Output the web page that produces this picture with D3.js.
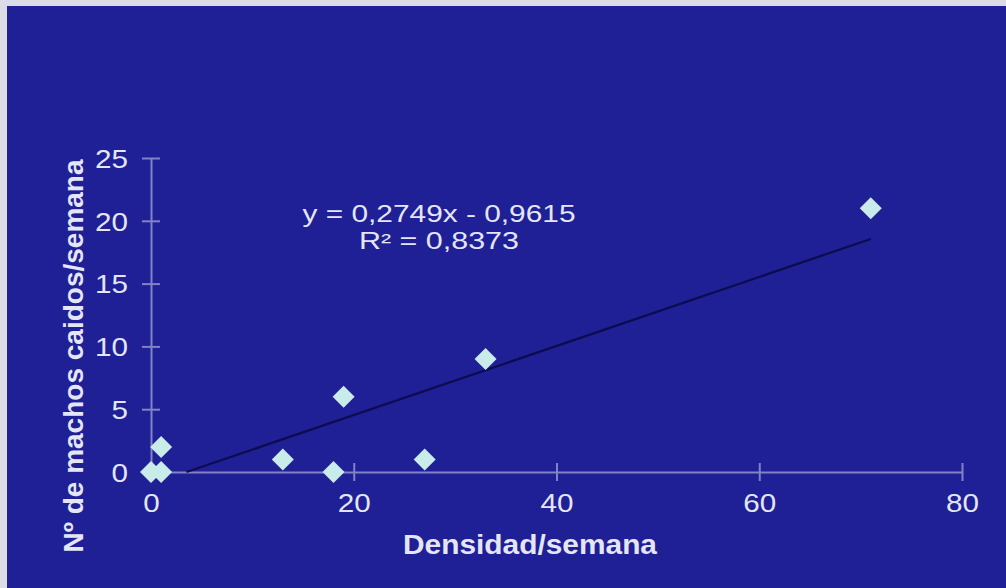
<!DOCTYPE html>
<html><head><meta charset="utf-8">
<script src="https://cdn.jsdelivr.net/npm/d3@7"></script>
<style>html,body{margin:0;padding:0;background:#dcdce6;}svg{display:block;}</style>
</head><body>
<svg id="c" width="1006" height="588"></svg>
<script>
const densidad = [0, 1, 1, 13, 18, 19, 27, 33, 71];
const machos   = [0, 0, 2, 1, 0, 6, 1, 9, 21];
const xTicks = [0, 20, 40, 60, 80];
const yTicks = [0, 5, 10, 15, 20, 25];
const slope = 0.2749, intercept = -0.9615;
const eqLines = ["y = 0,2749x - 0,9615", "R\u00B2 = 0,8373"];
const xTitle = "Densidad/semana";
const yTitle = "N\u00BA de machos caidos/semana";

const svg = d3.select("#c");
const font = "'Liberation Sans', Arial, sans-serif";
svg.append("rect").attr("x",0).attr("y",0).attr("width",1006).attr("height",588).attr("fill","#dcdce6");
svg.append("rect").attr("x",7).attr("y",6).attr("width",999).attr("height",582).attr("fill","#1f1f96");

const x = d3.scaleLinear().domain([0,80]).range([151,962]);
const y = d3.scaleLinear().domain([0,25]).range([472,158]);

const axisCol = "#8282c6", textCol = "#e4e6f6";

// x axis
const gx = svg.append("g").attr("transform","translate(0,472)")
  .call(d3.axisBottom(x).tickValues(xTicks).tickSize(0).tickFormat(d3.format("d")));
gx.select(".domain").attr("stroke",axisCol).attr("stroke-width",2);
gx.selectAll(".tick line").attr("y1",-9).attr("y2",9).attr("stroke",axisCol).attr("stroke-width",2);
gx.selectAll(".tick text").attr("y",40).attr("dy",0).attr("fill",textCol)
  .style("font-family",font).style("font-size","26px")
  .attr("textLength",d=>String(d).length*16.5).attr("lengthAdjust","spacingAndGlyphs");

// y axis
const gy = svg.append("g").attr("transform","translate(151,0)")
  .call(d3.axisLeft(y).tickValues(yTicks).tickSize(0).tickFormat(d3.format("d")));
gy.select(".domain").attr("stroke",axisCol).attr("stroke-width",2);
gy.selectAll(".tick line").attr("x1",-9).attr("x2",9).attr("stroke",axisCol).attr("stroke-width",2);
gy.selectAll(".tick text").attr("x",-23).attr("dy","0.36em").attr("fill",textCol)
  .style("font-family",font).style("font-size","26px")
  .attr("textLength",d=>String(d).length*16.5).attr("lengthAdjust","spacingAndGlyphs");

// trendline clipped at y>=0
const x0 = -intercept/slope, x1 = d3.max(densidad);
svg.append("line")
  .attr("x1",x(x0)).attr("y1",y(slope*x0+intercept))
  .attr("x2",x(x1)).attr("y2",y(slope*x1+intercept))
  .attr("stroke","#0c0c4e").attr("stroke-width",2.2);

// diamonds
const r = 11;
svg.append("g").selectAll("path").data(densidad.map((d,i)=>[d,machos[i]])).join("path")
  .attr("d",d=>{const cx=x(d[0]), cy=y(d[1]); return `M${cx},${cy-r}L${cx+r},${cy}L${cx},${cy+r}L${cx-r},${cy}Z`;})
  .attr("fill","#c9ecea");

// equation
const eqW = [273, 160];
svg.append("g").selectAll("text").data(eqLines).join("text")
  .attr("x",439).attr("y",(d,i)=>222+i*27).attr("text-anchor","middle")
  .attr("fill",textCol).style("font-family",font).style("font-size","23px")
  .attr("textLength",(d,i)=>eqW[i]).attr("lengthAdjust","spacingAndGlyphs")
  .text(d=>d);

// titles
svg.append("text").attr("x",530).attr("y",554).attr("text-anchor","middle")
  .attr("fill",textCol).style("font-family",font).style("font-size","28px").style("font-weight","bold")
  .attr("textLength",254).attr("lengthAdjust","spacingAndGlyphs")
  .text(xTitle);
svg.append("text").attr("transform","translate(83,356) rotate(-90)").attr("text-anchor","middle")
  .attr("fill",textCol).style("font-family",font).style("font-size","28px").style("font-weight","bold")
  .text(yTitle);
</script>
</body></html>
